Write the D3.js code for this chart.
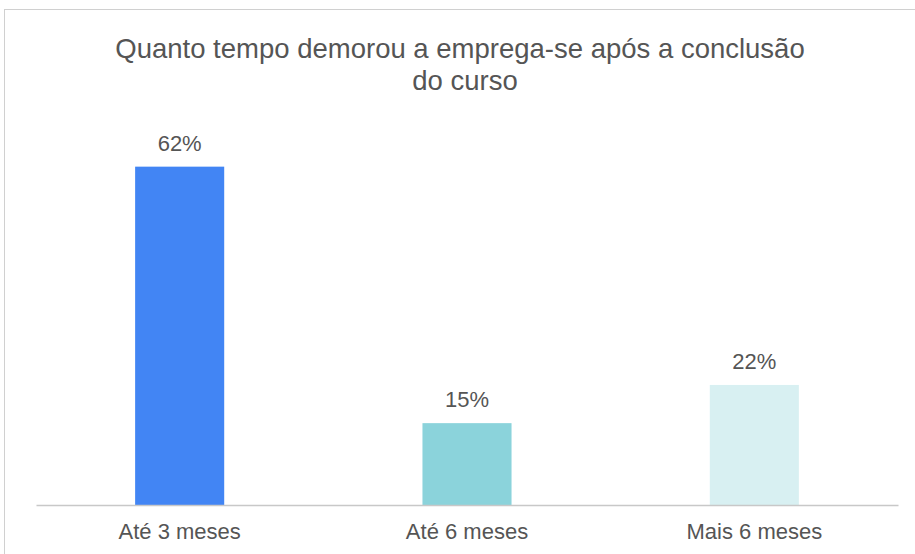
<!DOCTYPE html>
<html>
<head>
<meta charset="utf-8">
<script src="https://cdn.jsdelivr.net/npm/d3@7"></script>
<style>
  body { margin: 0; background: #fff; }
  svg { display: block; }
</style>
</head>
<body>
<svg id="chart" width="915" height="554"></svg>
<script>
var categories = ["Até 3 meses", "Até 6 meses", "Mais 6 meses"];
var values = [62, 15, 22];
var valueLabels = ["62%", "15%", "22%"];
var barColors = ["#4285f4", "#8bd3db", "#d8f0f2"];
var titleLines = ["Quanto tempo demorou a emprega-se após a conclusão", "do curso"];

var svg = d3.select("#chart");
var font = "'Liberation Sans', Arial, sans-serif";
var textColor = "#555";

// moldura do gráfico
svg.append("rect")
    .attr("x", 4.5)
    .attr("y", 9.5)
    .attr("width", 930)
    .attr("height", 600)
    .attr("fill", "none")
    .attr("stroke", "#d0d0d0");

var baseY = 505;

var x = d3.scaleBand()
    .domain(categories)
    .range([36, 898])
    .paddingInner(0.69)
    .paddingOuter(0.345);

var y = d3.scaleLinear()
    .domain([0, 70])
    .range([baseY, 123]);

svg.append("g").selectAll("text")
    .data(titleLines)
    .enter()
    .append("text")
    .attr("x", function(d, i) { return i == 0 ? 460 : 465; })
    .attr("y", function(d, i) { return 58 + i * 32; })
    .attr("text-anchor", "middle")
    .attr("fill", textColor)
    .attr("font-family", font)
    .attr("font-size", "27.5px")
    .text(function(d) { return d; });

svg.append("g").selectAll("rect")
    .data(values)
    .enter()
    .append("rect")
    .attr("x", function(d, i) { return x(categories[i]); })
    .attr("y", function(d) { return y(d); })
    .attr("width", x.bandwidth())
    .attr("height", function(d) { return baseY - y(d); })
    .attr("fill", function(d, i) { return barColors[i]; });

svg.append("g").selectAll("text")
    .data(values)
    .enter()
    .append("text")
    .attr("x", function(d, i) { return x(categories[i]) + x.bandwidth() / 2; })
    .attr("y", function(d) { return y(d) - 16; })
    .attr("text-anchor", "middle")
    .attr("fill", textColor)
    .attr("font-family", font)
    .attr("font-size", "22px")
    .text(function(d, i) { return valueLabels[i]; });

var xAxis = d3.axisBottom(x).tickSize(0).tickPadding(18);

var xAxisGroup = svg.append("g")
    .attr("transform", "translate(0," + baseY + ")")
    .call(xAxis);

xAxisGroup.select(".domain")
    .attr("stroke", "#c8c8c8")
    .attr("stroke-width", 1.5);

xAxisGroup.selectAll("text")
    .attr("fill", textColor)
    .attr("font-family", font)
    .attr("font-size", "22px");
</script>
</body>
</html>
